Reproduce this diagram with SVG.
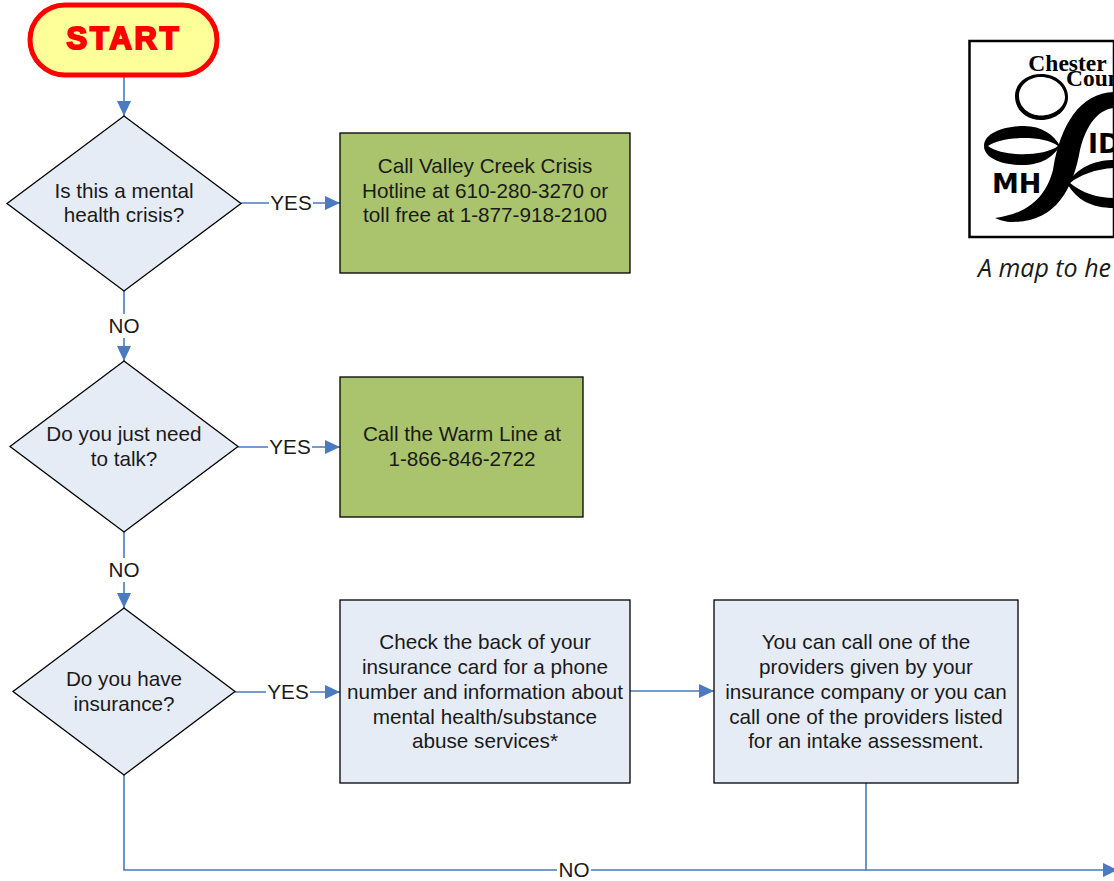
<svg xmlns="http://www.w3.org/2000/svg" width="1114" height="881" viewBox="0 0 1114 881">
<style>
text{font-family:"Liberation Sans",Arial,sans-serif;font-size:20.7px;fill:#1a1a1a;text-anchor:middle}
.d{fill:#e6ecf6;stroke:#000;stroke-width:1.3}
.b{fill:#e6ecf6;stroke:#000;stroke-width:1.3}
.g{fill:#a9c46c;stroke:#000;stroke-width:1.3}
.c{fill:none;stroke:#4a7ac0;stroke-width:1.6}
.lb{fill:#fff;stroke:none}
.s{font-family:"Liberation Serif",serif;font-weight:bold;font-size:23.5px;fill:#000}
.k{font-family:"DejaVu Sans",sans-serif;font-weight:bold;font-size:27px;fill:#000;text-anchor:start}
</style>
<defs><marker id="a" markerUnits="userSpaceOnUse" markerWidth="15" markerHeight="14" refX="15" refY="7" orient="auto"><path d="M0 0L15 7L0 14Z" fill="#4a7ac0"/></marker></defs>
<g id="connectors">
<path class="c" marker-end="url(#a)" d="M124 77V116"/>
<path class="c" marker-end="url(#a)" d="M241 203H340"/>
<path class="c" marker-end="url(#a)" d="M124 291V361"/>
<path class="c" marker-end="url(#a)" d="M238 447H340"/>
<path class="c" marker-end="url(#a)" d="M124 532V608"/>
<path class="c" marker-end="url(#a)" d="M235 692H340"/>
<path class="c" marker-end="url(#a)" d="M630 691H714"/>
<path class="c" d="M124 775V870H866"/>
<path class="c" marker-end="url(#a)" d="M866 783V870H1118"/>
<rect class="lb" x="269" y="190" width="44" height="26"/><text x="291" y="210">YES</text>
<rect class="lb" x="107" y="314" width="34" height="24"/><text x="124" y="333">NO</text>
<rect class="lb" x="268" y="434" width="44" height="26"/><text x="290" y="454">YES</text>
<rect class="lb" x="107" y="558" width="34" height="24"/><text x="124" y="577">NO</text>
<rect class="lb" x="266" y="679" width="44" height="26"/><text x="288" y="699">YES</text>
<rect class="lb" x="557" y="858" width="34" height="23"/><text x="574" y="877">NO</text>
</g>
<g id="start"><rect x="30" y="5" width="187" height="70" rx="35" fill="#ffff99" stroke="#f00" stroke-width="5"/><text x="124" y="49" style="font-size:31px;font-weight:bold;fill:#f00;stroke:#f00;stroke-width:2px;letter-spacing:2.800px">START</text></g>
<g id="q1"><path class="d" d="M124 116L241 203.500L124 291L7 203.500Z"/><text x="124" y="198">Is this a mental</text><text x="124" y="222">health crisis?</text></g>
<g id="a1"><rect class="g" x="340" y="133" width="290" height="140"/><text x="485" y="173">Call Valley Creek Crisis</text><text x="485" y="198">Hotline at 610-280-3270 or</text><text x="485" y="222">toll free at 1-877-918-2100</text></g>
<g id="q2"><path class="d" d="M124 361L238 446.500L124 532L10 446.500Z"/><text x="124" y="441">Do you just need</text><text x="124" y="466">to talk?</text></g>
<g id="a2"><rect class="g" x="340" y="377" width="243" height="140"/><text x="462" y="441">Call the Warm Line at</text><text x="462" y="466">1-866-846-2722</text></g>
<g id="q3"><path class="d" d="M124 608L235 691.500L124 775L13 691.500Z"/><text x="124" y="686">Do you have</text><text x="124" y="711">insurance?</text></g>
<g id="a3"><rect class="b" x="340" y="600" width="290" height="183"/><text x="485" y="649">Check the back of your</text><text x="485" y="674">insurance card for a phone</text><text x="485" y="699">number and information about</text><text x="485" y="724">mental health/substance</text><text x="485" y="748">abuse services*</text></g>
<g id="a4"><rect class="b" x="714" y="600" width="304" height="183"/><text x="866" y="649">You can call one of the</text><text x="866" y="674">providers given by your</text><text x="866" y="699">insurance company or you can</text><text x="866" y="724">call one of the providers listed</text><text x="866" y="748">for an intake assessment.</text></g>
<g id="logo">
<path d="M969.500 41H1114V237H969.500Z" fill="#fff" stroke="#000" stroke-width="2.500"/>
<text class="s" x="1067.500" y="71">Chester</text>
<text class="s" x="1066" y="86" style="text-anchor:start">Coun</text>
<path fill-rule="evenodd" fill="#000" d="M1015 96C1015 83 1027 74 1041 74C1056 74 1068 84 1068 97C1068 110 1056 120 1041 120C1026 120 1015 110 1015 96ZM1019 96C1019 107 1029 115.500 1041 115.500C1054 115.500 1065 107 1065 97C1065 86 1054 77 1041 77C1029 77 1019 85 1019 96Z"/>
<path fill-rule="evenodd" fill="#000" d="M984 146C984 132 1006 126 1024 126C1042 126 1054 135 1060 146C1053 157 1042 165 1022 165C1002 165 984 158 984 146ZM988 146C1002 157 1044 157 1058 146C1044 135 1002 136 988 146Z"/>
<text class="k" x="992" y="193">MH</text>
<path fill="#000" d="M995 218C1025 214 1045 200 1053 170C1060 125 1080 93 1114 92V108C1095 110 1085 130 1080 150C1073 190 1055 222 1013 222C1005 222 1000 220 995 218Z"/>
<text class="k" x="1088" y="153">ID</text>
<path fill="#000" d="M1067 183C1080 165 1098 160 1114 160V168C1095 169 1080 175 1070 183C1082 193 1098 198 1114 198V208C1092 208 1076 200 1067 183Z"/>
</g>
<text id="caption" x="978" y="277" style="font-family:'Open Sans',sans-serif;font-style:italic;font-size:25px;text-anchor:start">A map to he</text>
</svg>
